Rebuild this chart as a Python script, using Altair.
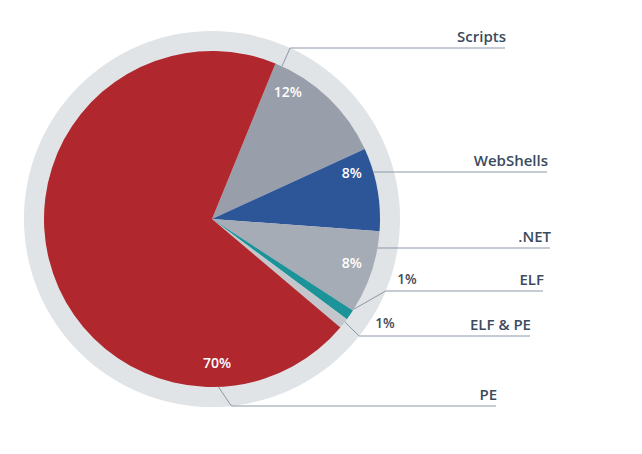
import math
import altair as alt
import pandas as pd

# ---- data ----
categories = ["Scripts", "WebShells", ".NET", "ELF", "ELF & PE", "PE"]
shares = [12, 8, 8, 1, 1, 70]
pct_labels = ["12%", "8%", "8%", "1%", "1%", "70%"]
colors = ["#989EAA", "#2D5699", "#A6ACB6", "#1C9398", "#C3C6CB", "#B0272D"]

# ---- layout ----
W, H = 626, 438
CX, CY = 204, 211
R_PIE, R_RING = 168, 188
START_DEG = 22.2
TEXT_COLOR = "#3B4A5E"
LINE_COLOR = "#8C97A8"
FONT = "Open Sans"

# inner percent labels: (angle deg, radius); None -> label outside
pct_inside = [(31, 147), (72, 147), (108, 147), None, None, (178, 145)]
pct_outside = [None, None, None, (399, 272), (377, 316), None]
# category label rows: line y, line end x
line_y = [40, 164, 240, 283, 328, 398]
line_end_x = [497, 539, 542, 535, 522, 488]
leader_deg = [24.6, None, None, 122.5, 127.8, 177.8]


def polar(deg, r):
    a = math.radians(deg)
    return CX + r * math.sin(a), CY - r * math.cos(a)


pie_df = pd.DataFrame({"category": categories, "share": shares,
                       "order": list(range(len(categories)))})

start = math.radians(START_DEG)
ring = alt.Chart(pd.DataFrame({"k": [0]})).mark_arc(
    radius=R_RING, theta=0, theta2=2 * math.pi, color="#E1E4E7"
).encode(x=alt.value(CX), y=alt.value(CY))

pie = alt.Chart(pie_df).mark_arc(radius=R_PIE).encode(
    theta=alt.Theta("share:Q", stack=True,
                    scale=alt.Scale(range=[start, start + 2 * math.pi])),
    color=alt.Color("category:N", scale=alt.Scale(domain=categories, range=colors),
                    legend=None),
    order=alt.Order("order:Q"),
    x=alt.value(CX), y=alt.value(CY),
)

xs = alt.X("x:Q", scale=alt.Scale(domain=[0, W]), axis=None)
ys = alt.Y("y:Q", scale=alt.Scale(domain=[0, H], reverse=True), axis=None)

# percent labels
rows_in, rows_out = [], []
for cat, lab, pin, pout in zip(categories, pct_labels, pct_inside, pct_outside):
    if pin is not None:
        x, y = polar(*pin)
        rows_in.append({"x": x, "y": y, "t": lab})
    if pout is not None:
        rows_out.append({"x": pout[0], "y": pout[1], "t": lab})

pct_in = alt.Chart(pd.DataFrame(rows_in)).mark_text(
    font=FONT, fontSize=14, fontWeight=600, color="white"
).encode(x=xs, y=ys, text="t:N")

pct_out = alt.Chart(pd.DataFrame(rows_out)).mark_text(
    font=FONT, fontSize=13.5, fontWeight=600, color=TEXT_COLOR
).encode(x=xs, y=ys, text="t:N")

# leader lines
pts = []
for cat, ly, ex, deg in zip(categories, line_y, line_end_x, leader_deg):
    dy = ly - CY
    if deg is None:
        sx = CX + math.sqrt(R_PIE ** 2 - dy ** 2)
        pts.append({"c": cat, "s": 0, "x": sx, "y": ly})
    else:
        sx, sy = polar(deg, R_PIE)
        pts.append({"c": cat, "s": 0, "x": sx, "y": sy})
        bx = CX + math.sqrt(R_RING ** 2 - dy ** 2)
        pts.append({"c": cat, "s": 1, "x": bx, "y": ly})
    pts.append({"c": cat, "s": 2, "x": ex, "y": ly})

leaders = alt.Chart(pd.DataFrame(pts)).mark_line(
    color=LINE_COLOR, strokeWidth=1
).encode(x=xs, y=ys, detail="c:N", order="s:Q")

lab_df = pd.DataFrame({"t": categories,
                       "x": [e + 1 for e in line_end_x],
                       "y": [v - 11 for v in line_y]})
cat_labels = alt.Chart(lab_df).mark_text(
    font=FONT, fontSize=15, fontWeight=600, color=TEXT_COLOR, align="right"
).encode(x=xs, y=ys, text="t:N")

chart = alt.layer(ring, pie, leaders, pct_in, pct_out, cat_labels).resolve_scale(
    theta="independent"
).properties(
    width=W, height=H, autosize=alt.AutoSizeParams(type="none"), padding=0,
    background="white"
).configure_view(stroke=None)

chart.save("out.html", embed_options={"renderer": "svg", "actions": False})
